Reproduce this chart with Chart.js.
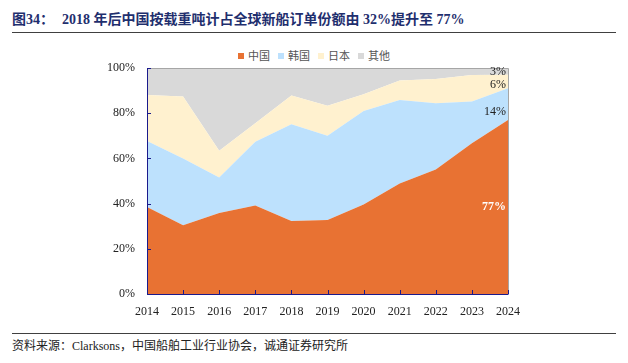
<!DOCTYPE html>
<html lang="zh">
<head>
<meta charset="UTF-8" />
<title>造船新订单份额</title>
<script src="https://cdn.jsdelivr.net/npm/chart.js"></script>
<style>
  html, body { margin: 0; padding: 0; background: #fff; }
  body { width: 628px; height: 363px; position: relative; overflow: hidden;
         font-family: "Liberation Serif", "Noto Sans CJK SC", serif; }
  #title { position: absolute; left: 12px; top: 8px; font-size: 14px; font-weight: bold;
           color: #1f2f6e; white-space: nowrap; }
  #title .num { display: inline-block; width: 50px; }
  .rule { position: absolute; left: 12px; width: 604px; height: 1px; background: #404040; }
  #legend { position: absolute; left: 238px; top: 47px; font-size: 11px; color: #555;
            font-family: "Noto Sans CJK SC", sans-serif; white-space: nowrap; }
  #legend span.item { margin-right: 8px; }
  #legend i { display: inline-block; width: 6px; height: 6px; margin-right: 4px; vertical-align: 1px; }
  #source { position: absolute; left: 12px; top: 336px; font-size: 12px; color: #222;
            font-family: "Liberation Serif", "Noto Sans CJK SC", serif; white-space: nowrap; }
  #wrap { position: absolute; left: 0; top: 0; width: 628px; height: 363px; }
</style>
</head>
<body>
<div id="title"><span class="num">图34：</span>2018 年后中国按载重吨计占全球新船订单份额由 32%提升至 77%</div>
<div class="rule" style="top:32px"></div>
<div id="legend"></div>
<div class="rule" style="top:333px"></div>
<div id="source">资料来源：Clarksons，中国船舶工业行业协会，诚通证券研究所</div>
<div id="wrap"><canvas id="chart" width="628" height="363"></canvas></div>

<script>
  // 年份与各国份额 (%)
  const years = ['2014', '2015', '2016', '2017', '2018', '2019', '2020', '2021', '2022', '2023', '2024'];
  const china = [38.5, 30.4, 35.8, 39.2, 32.3, 32.7, 39.6, 48.9, 55.1, 66.7, 77];
  const korea = [29.2, 29.6, 15.8, 28.2, 42.8, 37.3, 41.4, 36.9, 29.3, 18.5, 14];
  const japan = [20.4, 27.4, 11.8, 8.1, 12.7, 13.3, 7.4, 8.7, 10.7, 11.7, 6];
  const other = [11.9, 12.6, 36.6, 24.5, 12.2, 16.7, 11.6, 5.5, 4.9, 3.1, 3];
  const seriesNames = ['中国', '韩国', '日本', '其他'];
  const seriesColors = ['#e87233', '#bde1fd', '#fff1cf', '#d9d9d9'];
  const yTicks = [0, 20, 40, 60, 80, 100];

  const allSeries = [china, korea, japan, other];

  // legend
  document.getElementById('legend').innerHTML = seriesNames.map((n, i) =>
    `<span class="item"><i style="background:${seriesColors[i]}"></i>${n}</span>`).join('');

  const axisColor = '#1a1a8c';

  const framePlugin = {
    id: 'frame',
    afterDatasetsDraw(chart) {
      const { ctx, chartArea: a, scales } = chart;
      ctx.save();
      // grey top/right border
      ctx.strokeStyle = '#a6a6a6';
      ctx.lineWidth = 1;
      ctx.beginPath();
      ctx.moveTo(a.left, a.top + 0.5); ctx.lineTo(a.right + 0.5, a.top + 0.5);
      ctx.lineTo(a.right + 0.5, a.bottom);
      ctx.stroke();
      // blue axes
      ctx.strokeStyle = axisColor;
      ctx.beginPath();
      ctx.moveTo(a.left + 0.5, a.top); ctx.lineTo(a.left + 0.5, a.bottom + 0.5);
      ctx.lineTo(a.right + 0.5, a.bottom + 0.5);
      ctx.stroke();
      // inward ticks
      ctx.beginPath();
      yTicks.forEach(v => {
        const y = Math.round(scales.y.getPixelForValue(v)) + 0.5;
        ctx.moveTo(a.left, y); ctx.lineTo(a.left + 4, y);
      });
      years.forEach((_, i) => {
        const x = Math.round(scales.x.getPixelForValue(i)) + 0.5;
        ctx.moveTo(x, a.bottom); ctx.lineTo(x, a.bottom - 4);
      });
      ctx.stroke();

      // value labels for last year
      const last = years.length - 1;
      const xr = a.right - 2;
      let base = 0;
      const nudges = [0, 8, 3, 0];
      ctx.textAlign = 'right';
      ctx.textBaseline = 'middle';
      allSeries.forEach((s, i) => {
        const v = s[last];
        const y = scales.y.getPixelForValue(base + v / 2) + nudges[i];
        base += v;
        ctx.font = (i === 0 ? 'bold ' : '') + '12px "Liberation Serif", serif';
        ctx.fillStyle = i === 0 ? '#ffffff' : '#222222';
        ctx.fillText(Math.round(v) + '%', xr, y);
      });
      ctx.restore();
    }
  };

  new Chart(document.getElementById('chart'), {
    type: 'line',
    data: {
      labels: years,
      datasets: allSeries.map((s, i) => ({
        label: seriesNames[i],
        data: s,
        backgroundColor: seriesColors[i],
        borderColor: seriesColors[i],
        borderWidth: 0,
        pointRadius: 0,
        fill: i === 0 ? 'origin' : '-1',
        tension: 0
      }))
    },
    options: {
      responsive: false,
      animation: false,
      layout: { padding: { top: 68, right: 120, left: 0, bottom: 0 } },
      plugins: { legend: { display: false }, tooltip: { enabled: false } },
      scales: {
        x: {
          offset: false,
          grid: { display: false, drawTicks: false },
          border: { display: false },
          ticks: { color: '#222', padding: 11, maxRotation: 0,
                   font: { family: '"Liberation Serif", serif', size: 12 } },
          afterFit(scale) { scale.height = 69; }
        },
        y: {
          stacked: true,
          min: 0, max: 100,
          grid: { display: false, drawTicks: false },
          border: { display: false },
          ticks: { stepSize: 20, color: '#222', padding: 12,
                   font: { family: '"Liberation Serif", serif', size: 12 },
                   callback: v => v + '%' },
          afterFit(scale) { scale.width = 147; }
        }
      }
    },
    plugins: [framePlugin]
  });
</script>
</body>
</html>
